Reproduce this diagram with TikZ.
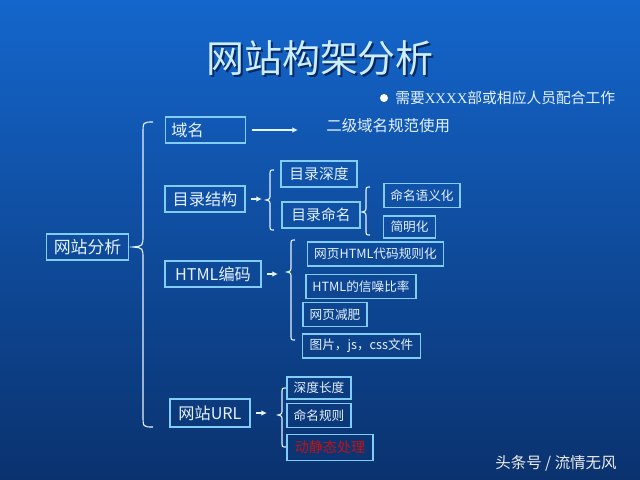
\documentclass[tikz,border=0pt]{standalone}
\usepackage{fontspec}
\setmainfont{Liberation Serif}
\newfontfamily\cjk{Noto Sans CJK SC}
\usepackage{tikz}
\usetikzlibrary{arrows.meta, positioning}
\usepackage{xcolor}
\definecolor{bgtop}{RGB}{20, 102, 204}
\definecolor{bgbot}{RGB}{10, 50, 110}
\definecolor{boxline}{RGB}{130, 205, 245}
\definecolor{lighttext}{RGB}{228, 242, 255}
\definecolor{titletext}{RGB}{205, 238, 255}
\definecolor{titleshade}{RGB}{8, 40, 100}
\definecolor{redtext}{RGB}{195, 18, 18}

% left curly brace: x, top, tip, bottom, depth
\newcommand\leftbrace[5]{%
  \draw[curly] (#1+#5,#2) .. controls (#1,#2) .. (#1,#2+#5+2) -- (#1,#3-#5-2)
    .. controls (#1,#3-1) .. (#1-#5,#3) .. controls (#1,#3+1) .. (#1,#3+#5+2)
    -- (#1,#4-#5-2) .. controls (#1,#4) .. (#1+#5,#4);}

\begin{document}
\begin{tikzpicture}[x=0.025cm, y=-0.025cm,
    box/.style={draw=boxline, line width=0.8pt, text=lighttext, inner sep=0pt,
      font=\cjk\fontsize{11.5}{13}\selectfont},
    subbox/.style={box, font=\cjk\fontsize{10.5}{12}\selectfont},
    leafbox/.style={box, font=\cjk\fontsize{9}{11}\selectfont},
    link/.style={draw=lighttext, line width=0.8pt, shorten <=4pt, -{Latex[length=4pt, width=4pt]}},
    curly/.style={draw=lighttext, line width=0.8pt}]
    \fill[top color=bgtop, bottom color=bgbot] (0,0) rectangle (640,480);
    \useasboundingbox (0,0) rectangle (640,480);

    % title and note
    \node[text=titleshade, font=\cjk\fontsize{27}{30}\selectfont] at (322,60) {网站构架分析};
    \node[text=titletext, font=\cjk\fontsize{27}{30}\selectfont] (title) at (320,58) {网站构架分析};
    \fill[white] (384,98) circle (4);
    \node[anchor=west, text=lighttext, font=\cjk\fontsize{10.5}{12}\selectfont, inner sep=0pt] (note) at (395,98)
      {需要{\rmfamily XXXX}部或相应人员配合工作};

    % root
    \node[box, minimum width=2.03cm, minimum height=0.65cm, font=\cjk\fontsize{12}{14}\selectfont] (site) at (87.5,247) {网站分析};
    \leftbrace{143}{122}{247}{427}{10}

    % domain
    \node[box, text width=1.7cm, align=left, inner xsep=0.15cm, minimum height=0.65cm] (domain) at (205.5,130) {域名};
    \coordinate (domaintip) at (298,130);
    \draw[link] (domain) -- (domaintip);
    \node[anchor=west, text=lighttext, font=\cjk\fontsize{11}{13}\selectfont, inner sep=0pt] (domainnote) at (326,126) {二级域名规范使用};

    % directory
    \node[box, minimum width=2cm, minimum height=0.65cm] (dir) at (205,199) {目录结构};
    \coordinate (dirtip) at (262,199);
    \draw[link] (dir) -- (dirtip);
    \leftbrace{270}{170}{200}{230}{4}
    \node[subbox, minimum width=1.9cm, minimum height=0.65cm] (dirdepth) at (319,174) {目录深度};
    \node[subbox, minimum width=1.95cm, minimum height=0.65cm] (dirname) at (321,215) {目录命名};
    \leftbrace{366}{187}{212}{235}{4}
    \node[leafbox, minimum width=1.9cm, minimum height=0.58cm] (semantic) at (422,195.5) {命名语义化};
    \node[leafbox, minimum width=1.28cm, minimum height=0.55cm] (simple) at (409.5,227) {简明化};

    % html
    \node[box, minimum width=2.4cm, minimum height=0.65cm] (html) at (213,274) {HTML编码};
    \coordinate (htmltip) at (278,274);
    \draw[link] (html) -- (htmltip);
    \leftbrace{291}{240}{272}{340}{4}
    \node[leafbox, minimum width=3.38cm, minimum height=0.6cm] (rules) at (375.5,254) {网页HTML代码规则化};
    \node[leafbox, minimum width=2.75cm, minimum height=0.58cm] (ratio) at (361,286.5) {HTML的信噪比率};
    \node[leafbox, minimum width=1.6cm, minimum height=0.58cm] (slim) at (335,314.5) {网页减肥};
    \node[leafbox, minimum width=2.93cm, minimum height=0.6cm] (files) at (361.5,346) {图片，js，css文件};

    % url
    \node[box, minimum width=2cm, minimum height=0.7cm] (url) at (210,413) {网站URL};
    \coordinate (urltip) at (267,413);
    \draw[link] (url) -- (urltip);
    \leftbrace{282}{388}{415}{447}{4}
    \node[leafbox, minimum width=1.6cm, minimum height=0.55cm] (urldepth) at (319,388) {深度长度};
    \node[leafbox, minimum width=1.6cm, minimum height=0.58cm] (urlname) at (319,415.5) {命名规则};
    \node[leafbox, minimum width=2.15cm, minimum height=0.63cm, text=redtext, font=\cjk\fontsize{10}{12}\selectfont] (dynamic) at (330,447.5) {动静态处理};

    % watermark
    \node[text=gray!15!white, font=\cjk\fontsize{11}{13}\selectfont] (mark) at (556,463) {头条号 / 流情无风};
\end{tikzpicture}
\end{document}
